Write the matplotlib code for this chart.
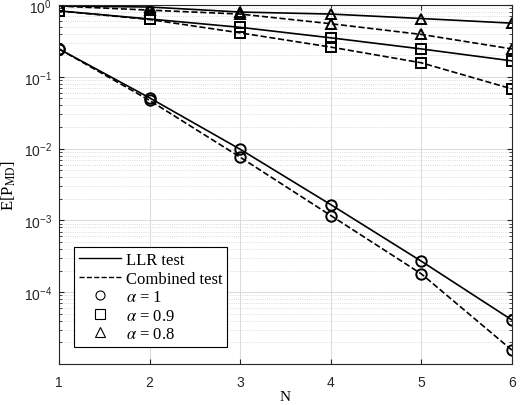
import matplotlib
matplotlib.use('Agg')
import matplotlib.pyplot as plt
from matplotlib.lines import Line2D
from matplotlib.ticker import LogLocator, NullFormatter
import numpy as np

plt.rcParams['mathtext.fontset'] = 'stix'

N = [1, 2, 3, 4, 5, 6]

# alpha = 1 (circles)
llr_a1 = [0.245, 0.051, 0.0098, 0.00166, 2.7e-4, 4.1e-5]
comb_a1 = [0.245, 0.047, 0.0076, 0.00117, 1.8e-4, 1.56e-5]
# alpha = 0.9 (squares)
llr_a09 = [0.83, 0.64, 0.49, 0.35, 0.245, 0.167]
comb_a09 = [0.83, 0.63, 0.41, 0.26, 0.157, 0.068]
# alpha = 0.8 (triangles)
llr_a08 = [0.97, 0.94, 0.80, 0.75, 0.65, 0.56]
comb_a08 = [0.97, 0.85, 0.75, 0.55, 0.39, 0.245]

fig = plt.figure(figsize=(5.2, 4.06), dpi=100)
ax = fig.add_axes([0.1135, 0.101, 0.871, 0.884])

series = [(llr_a1, comb_a1, 'o'), (llr_a09, comb_a09, 's'), (llr_a08, comb_a08, '^')]
for llr, comb, m in series:
    ax.semilogy(N, llr, '-', color='k', lw=1.2, marker=m, ms=7.5, mfc='none', mew=1.4)
    ax.semilogy(N, comb, '--', color='k', lw=1.2, marker=m, ms=7.5, mfc='none', mew=1.4)

ax.set_xlim(1, 6)
ax.set_ylim(1e-5, 1)
ax.set_yticks([1e-4, 1e-3, 1e-2, 1e-1, 1])
ax.yaxis.set_minor_locator(LogLocator(base=10, subs=np.arange(2, 10), numticks=20))
ax.yaxis.set_minor_formatter(NullFormatter())
ax.grid(True, which='major', color='#dcdcdc', lw=0.8)
ax.grid(True, which='minor', color='#d0d0d0', lw=0.6, ls=':')
ax.tick_params(which='both', direction='in', top=True, right=True, labelsize=10, colors='#262626')
ax.tick_params(axis='x', pad=8)
ax.tick_params(axis='y', pad=5)
for lbl in ax.get_xticklabels() + ax.get_yticklabels():
    lbl.set_family('Liberation Sans')
for s in ax.spines.values():
    s.set_color('#262626')
    s.set_linewidth(0.8)

ax.set_xlabel('N', family='Liberation Serif', fontsize=11, labelpad=1)
ax.set_ylabel(r'E[P$_{\rm MD}$]', family='Liberation Serif', fontsize=12, labelpad=4)

handles = [
    Line2D([], [], color='k', ls='-', lw=1.0),
    Line2D([], [], color='k', ls='--', lw=1.0),
    Line2D([], [], color='k', ls='none', marker='o', mfc='none', ms=6.5, mew=0.8),
    Line2D([], [], color='k', ls='none', marker='s', mfc='none', ms=6.5, mew=0.8),
    Line2D([], [], color='k', ls='none', marker='^', mfc='none', ms=6.5, mew=0.8),
]
labels = ['LLR test', 'Combined test', r'$\alpha$ = 1', r'$\alpha$ = 0.9', r'$\alpha$ = 0.8']
leg = ax.legend(handles, labels, loc='lower left', bbox_to_anchor=(0.033, 0.047),
                borderaxespad=0, fancybox=False, edgecolor='k', framealpha=1,
                prop={'family': 'Liberation Serif', 'size': 12},
                handlelength=2.5, labelspacing=0.15, handletextpad=0.3, borderpad=0.3)
leg.get_frame().set_linewidth(0.8)

fig.savefig('out.png', dpi=100)
